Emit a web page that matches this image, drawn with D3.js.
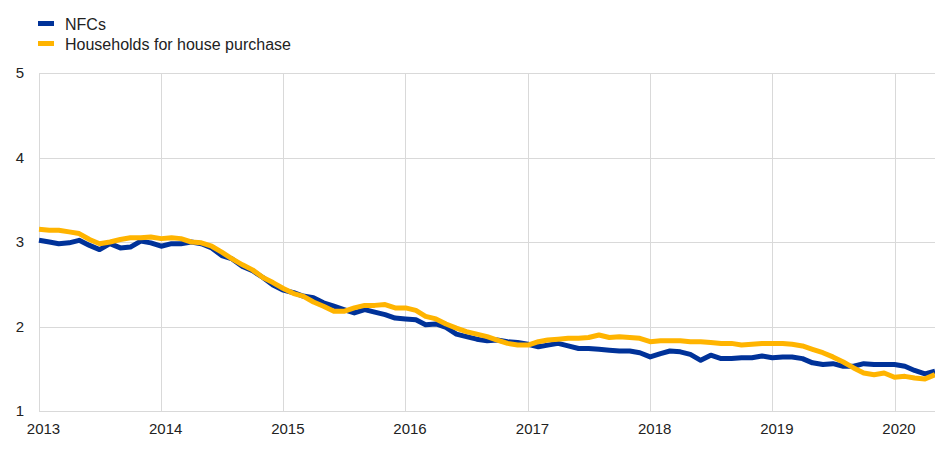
<!DOCTYPE html>
<html>
<head>
<meta charset="utf-8">
<script src="https://cdn.jsdelivr.net/npm/d3@7"></script>
<style>
  body { margin: 0; background: #fff; }
  svg { display: block; font-family: Arial, "Liberation Sans", sans-serif; }
</style>
</head>
<body>
<div id="graphic"></div>
<script>
// monthly observations, Jan 2013 - May 2020
const startMonth = new Date(2013, 0, 1);
const endMonth = new Date(2020, 4, 1);

const nfcs = [
  3.02, 3.00, 2.98, 2.99, 3.02, 2.96, 2.91, 2.98, 2.93, 2.94, 3.01, 2.99,
  2.95, 2.98, 2.98, 3.00, 2.98, 2.93, 2.84, 2.80, 2.71, 2.66, 2.58, 2.49,
  2.43, 2.40, 2.36, 2.34, 2.28, 2.24, 2.20, 2.16, 2.20, 2.17, 2.14, 2.10,
  2.09, 2.08, 2.02, 2.03, 1.99, 1.91, 1.88, 1.85, 1.83, 1.84, 1.82, 1.81,
  1.79, 1.76, 1.78, 1.80, 1.77, 1.74, 1.74, 1.73, 1.72, 1.71, 1.71, 1.69,
  1.64, 1.68, 1.71, 1.70, 1.67, 1.60, 1.66, 1.62, 1.62, 1.63, 1.63, 1.65,
  1.63, 1.64, 1.64, 1.62, 1.57, 1.55, 1.56, 1.53, 1.53, 1.56, 1.55, 1.55,
  1.55, 1.53, 1.48, 1.44, 1.47
];

const households = [
  3.15, 3.14, 3.14, 3.12, 3.10, 3.03, 2.98, 3.00, 3.03, 3.05, 3.05, 3.06,
  3.04, 3.05, 3.04, 3.00, 2.99, 2.95, 2.88, 2.80, 2.73, 2.67, 2.58, 2.52,
  2.45, 2.39, 2.36, 2.29, 2.24, 2.18, 2.18, 2.22, 2.25, 2.25, 2.26, 2.22,
  2.22, 2.19, 2.12, 2.09, 2.03, 1.98, 1.94, 1.91, 1.88, 1.84, 1.80, 1.78,
  1.78, 1.82, 1.84, 1.85, 1.86, 1.86, 1.87, 1.90, 1.87, 1.88, 1.87, 1.86,
  1.82, 1.83, 1.83, 1.83, 1.82, 1.82, 1.81, 1.80, 1.80, 1.78, 1.79, 1.80,
  1.80, 1.80, 1.79, 1.77, 1.73, 1.69, 1.64, 1.58, 1.51, 1.45, 1.43, 1.45,
  1.40, 1.41, 1.39, 1.38, 1.43
];

const seriesNames = ["NFCs", "Households for house purchase"];
const seriesColors = ["#003299", "#ffb400"];
const yTicks = [1, 2, 3, 4, 5];
const xTickYears = [2013, 2014, 2015, 2016, 2017, 2018, 2019, 2020];

const width = 935, height = 449;
const margin = {top: 73, right: 0, bottom: 38, left: 39};
const plotWidth = width - margin.left - margin.right;
const plotHeight = height - margin.top - margin.bottom;

const months = d3.timeMonth.range(startMonth, d3.timeMonth.offset(endMonth, 1));
const series = [nfcs, households].map((vals, k) => ({
  name: seriesNames[k],
  color: seriesColors[k],
  values: vals.map((v, i) => ({date: months[i], value: v}))
}));

const svg = d3.select("#graphic")
  .append("svg")
  .attr("width", width)
  .attr("height", height);

const plot = svg.append("g")
  .attr("transform", "translate(" + margin.left + "," + margin.top + ")");

const x = d3.scaleTime()
  .domain([startMonth, endMonth])
  .range([0, plotWidth]);

const y = d3.scaleLinear()
  .domain([1, 5])
  .range([plotHeight, 0]);

// vertical grid at each year
plot.append("g")
  .selectAll("line")
  .data(xTickYears)
  .join("line")
  .attr("x1", d => Math.round(x(new Date(d, 0, 1))) + 0.5)
  .attr("x2", d => Math.round(x(new Date(d, 0, 1))) + 0.5)
  .attr("y1", 0)
  .attr("y2", plotHeight)
  .attr("stroke", "#d9d9d9")
  .attr("stroke-width", 1);

// horizontal grid
plot.append("g")
  .selectAll("line")
  .data(yTicks)
  .join("line")
  .attr("x1", 0)
  .attr("x2", plotWidth)
  .attr("y1", d => Math.round(y(d)) + 0.5)
  .attr("y2", d => Math.round(y(d)) + 0.5)
  .attr("stroke", "#d9d9d9")
  .attr("stroke-width", 1);

// y axis labels
const yAxis = plot.append("g")
  .call(d3.axisLeft(y).tickValues(yTicks).tickFormat(d3.format("d")).tickSize(0).tickPadding(15));
yAxis.select(".domain").remove();
yAxis.selectAll("text")
  .attr("font-size", 15)
  .attr("font-family", "Arial, 'Liberation Sans', sans-serif")
  .attr("fill", "#222");

// x axis labels
const xAxis = plot.append("g")
  .attr("transform", "translate(0," + plotHeight + ")")
  .call(d3.axisBottom(x)
    .tickValues(xTickYears.map(yr => new Date(yr, 0, 1)))
    .tickFormat(d3.timeFormat("%Y"))
    .tickSize(0)
    .tickPadding(12));
xAxis.select(".domain").remove();
xAxis.selectAll("text")
  .attr("dx", 4)
  .attr("font-size", 15)
  .attr("font-family", "Arial, 'Liberation Sans', sans-serif")
  .attr("fill", "#222");

// lines
const line = d3.line()
  .x(d => x(d.date))
  .y(d => y(d.value));

plot.selectAll(".series")
  .data(series)
  .join("path")
  .attr("class", "series")
  .attr("fill", "none")
  .attr("stroke", d => d.color)
  .attr("stroke-width", 5)
  .attr("stroke-linejoin", "round")
  .attr("d", d => line(d.values));

// legend
const legend = svg.append("g")
  .attr("transform", "translate(38,14)");
const items = legend.selectAll("g")
  .data(series)
  .join("g")
  .attr("transform", (d, i) => "translate(0," + (i * 20) + ")");
items.append("rect")
  .attr("x", 0)
  .attr("y", 7)
  .attr("width", 16)
  .attr("height", 5)
  .attr("fill", d => d.color);
items.append("text")
  .attr("x", 27)
  .attr("y", 15.5)
  .attr("font-size", 16)
  .attr("fill", "#222")
  .text(d => d.name);
</script>
</body>
</html>
